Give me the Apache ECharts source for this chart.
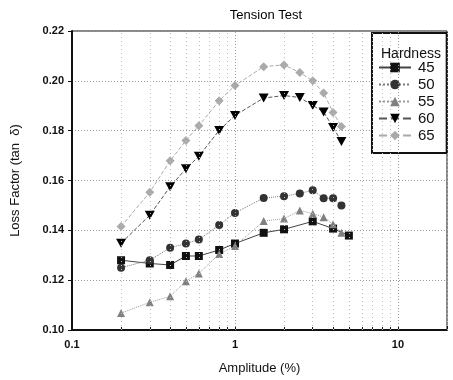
<!DOCTYPE html>
<html><head><meta charset="utf-8">
<script src="https://cdn.jsdelivr.net/npm/echarts@6/dist/echarts.min.js"></script>
<style>html,body{margin:0;padding:0;background:#fff}#c{width:453px;height:380px}</style>
</head><body><div id="c"></div>
<script>
const seriesNames = ['45','50','55','60','65'];
const x45 = [0.2,0.3,0.4,0.5,0.6,0.8,1,1.5,2,3,4,5];
const y45 = [0.128,0.1267,0.1261,0.1297,0.1297,0.1321,0.1347,0.139,0.1404,0.1436,0.1407,0.1379];
const x50 = [0.2,0.3,0.4,0.5,0.6,0.8,1,1.5,2,2.5,3,3.5,4,4.5];
const y50 = [0.125,0.128,0.133,0.1347,0.1363,0.1421,0.147,0.153,0.1537,0.1548,0.1561,0.1529,0.1529,0.150];
const x55 = [0.2,0.3,0.4,0.5,0.6,0.8,1,1.5,2,2.5,3,3.5,4,4.5];
const y55 = [0.1068,0.1111,0.1135,0.1196,0.1227,0.1305,0.1337,0.1437,0.1447,0.148,0.1467,0.1453,0.1424,0.139];
const x60 = [0.2,0.3,0.4,0.5,0.6,0.8,1,1.5,2,2.5,3,3.5,4,4.5];
const y60 = [0.1348,0.1461,0.1575,0.1647,0.1697,0.1801,0.1861,0.1931,0.1941,0.1933,0.1901,0.1875,0.1813,0.1757];
const x65 = [0.2,0.3,0.4,0.5,0.6,0.8,1,1.5,2,2.5,3,3.5,4,4.5];
const y65 = [0.1415,0.1553,0.1679,0.1761,0.182,0.192,0.1981,0.2057,0.2064,0.2033,0.200,0.1951,0.1873,0.1817];
const minorGridX = [0.2,0.3,0.4,0.5,0.6,0.7,0.8,0.9,2,3,4,5,6,7,8,9,20];
const majorGridX = [1,10];

const zip = (xs, ys) => xs.map((x, i) => [x, ys[i]]);
const font = 'Liberation Sans, Arial, sans-serif';

const styles = [
  {sym:'rect', size:8, color:'#111', line:{color:'#444', width:1, type:'solid'}},
  {sym:'circle', size:8, color:'#333', line:{color:'#777', width:1, type:'dotted'}},
  {sym:'triangle', size:8, color:'#808080', line:{color:'#999', width:1, type:'dotted'}},
  {sym:'path://M0,0L10,0L5,10Z', size:[10,9], color:'#000', line:{color:'#555', width:1, type:'dashed'}},
  {sym:'diamond', size:9, color:'#aaa', line:{color:'#aaa', width:1, type:'dashed'}}
];
const xs = [x45,x50,x55,x60,x65], ys = [y45,y50,y55,y60,y65];

const series = seriesNames.map((n, i) => ({
  name: n, type: 'line', data: zip(xs[i], ys[i]),
  symbol: styles[i].sym, symbolSize: styles[i].size,
  itemStyle: {color: styles[i].color},
  lineStyle: styles[i].line,
  z: 3
}));
series.push({
  type: 'line', data: [], silent: true,
  markLine: {
    silent: true, symbol: 'none', label: {show: false},
    lineStyle: {color: '#bbb', type: [1, 3], width: 1},
    data: minorGridX.map(v => ({xAxis: v}))
  }
});
series.push({
  type: 'line', data: [], silent: true,
  markLine: {
    silent: true, symbol: 'none', label: {show: false},
    lineStyle: {color: '#999', type: [1, 2], width: 1},
    data: majorGridX.map(v => ({xAxis: v}))
  }
});

const chart = echarts.init(document.getElementById('c'));
chart.setOption({
  animation: false,
  title: [
    {text: 'Tension Test', left: 261, top: 4, textAlign: 'center',
     textStyle: {fontFamily: font, fontSize: 13, fontWeight: 'normal', color: '#000'}},
    {text: 'Hardness', left: 376, top: 42,
     textStyle: {fontFamily: font, fontSize: 14, fontWeight: 'normal', color: '#111'}}
  ],
  grid: {left: 72, right: 6, top: 31, bottom: 49, show: true, borderColor: '#111', borderWidth: 1},
  legend: {
    data: seriesNames, orient: 'vertical', left: 372, top: 33,
    padding: [27, 12, 10, 6], itemGap: 2, itemWidth: 32, itemHeight: 12,
    borderColor: '#111', borderWidth: 2, backgroundColor: '#fff',
    textStyle: {fontFamily: font, fontSize: 15, color: '#111', padding: [0, 0, 0, 2]}
  },
  xAxis: {
    type: 'log', logBase: 10, min: 0.1, max: 20,
    name: 'Amplitude (%)', nameLocation: 'middle', nameGap: 32,
    nameTextStyle: {fontFamily: font, fontSize: 13, color: '#111'},
    axisLine: {lineStyle: {color: '#111', width: 2}},
    axisTick: {inside: true, length: 4, lineStyle: {color: '#111'}},
    minorTick: {show: true, splitNumber: 9, length: 3, lineStyle: {color: '#111'}},
    axisLabel: {fontFamily: font, fontSize: 11, fontWeight: 'bold', color: '#111', margin: 9,
      showMaxLabel: false, formatter: v => String(+v.toPrecision(3))},
    splitLine: {show: false}
  },
  yAxis: {
    type: 'value', min: 0.10, max: 0.22, interval: 0.02,
    name: 'Loss Factor (tan  δ)', nameLocation: 'middle', nameGap: 50,
    nameTextStyle: {fontFamily: font, fontSize: 13, color: '#111'},
    axisLine: {show: true, lineStyle: {color: '#111', width: 2}},
    axisTick: {show: true, length: 4, lineStyle: {color: '#111'}},
    axisLabel: {fontFamily: font, fontSize: 11, fontWeight: 'bold', color: '#111', margin: 8,
      formatter: v => v.toFixed(2)},
    splitLine: {show: true, lineStyle: {color: '#999', type: [1, 2]}}
  },
  series: series
});
</script></body></html>
